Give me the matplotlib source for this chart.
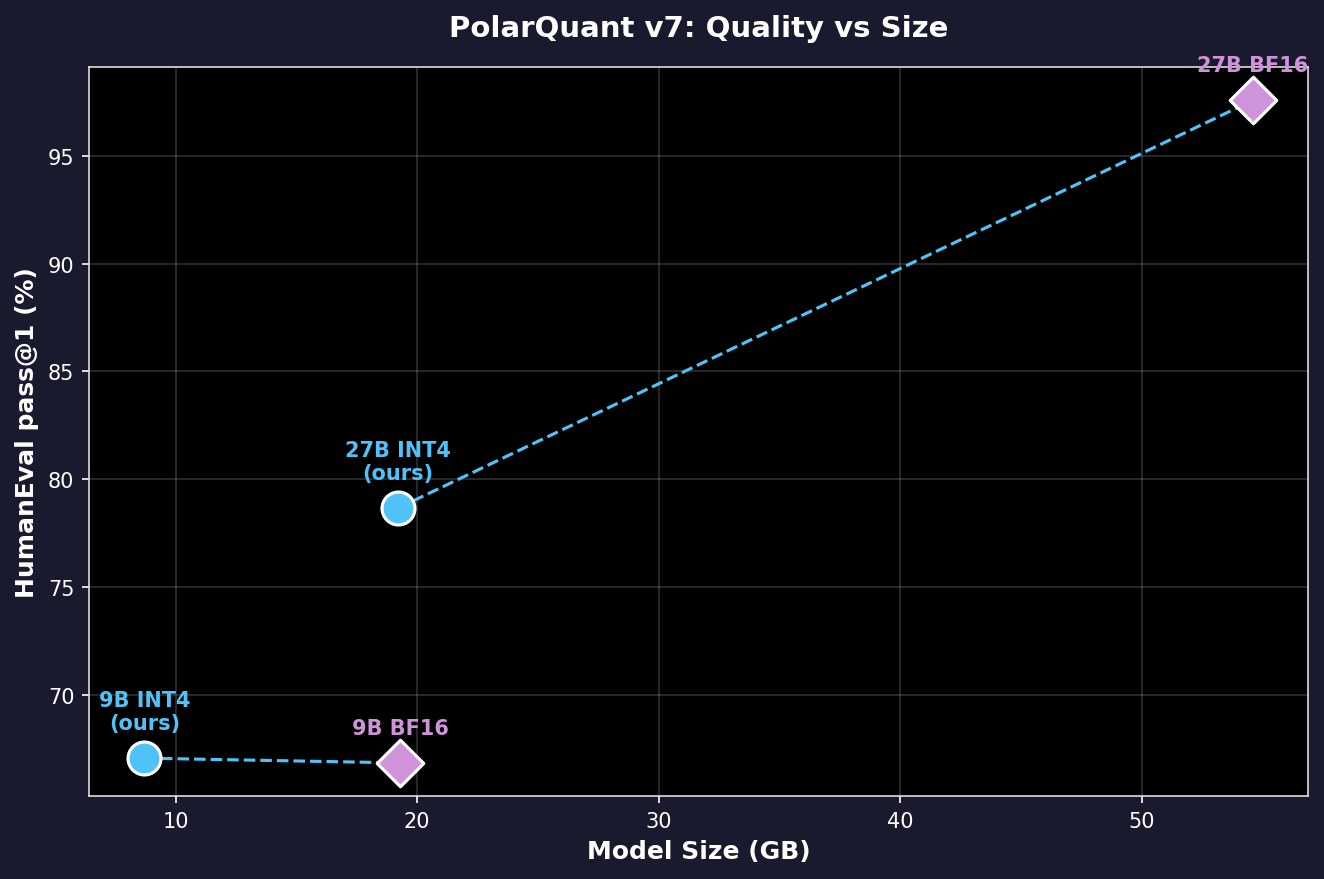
"""PolarQuant v7: quality vs model size."""
import matplotlib.pyplot as plt

BG = "#1a1a2e"
BLUE = "#4fc3f7"
PURPLE = "#ce93d8"

# quantised (ours) vs BF16 baselines
labels_ours = ["9B INT4\n(ours)", "27B INT4\n(ours)"]
size_ours = [8.7, 19.2]
score_ours = [67.07, 78.66]

labels_base = ["9B BF16", "27B BF16"]
size_base = [19.3, 54.6]
score_base = [66.85, 97.56]

fig = plt.figure(figsize=(1324 / 150, 880 / 150), dpi=150, facecolor=BG)
ax = fig.add_axes([0.0672, 0.0943, 0.9207, 0.8280])
ax.set_facecolor("black")

# dashed link: each quantised model to its baseline
for i in range(len(size_ours)):
    ax.plot([size_ours[i], size_base[i]], [score_ours[i], score_base[i]],
            ls="--", lw=1.5, c=BLUE, zorder=2)

ax.scatter(size_ours, score_ours, s=250, c=BLUE, marker="o",
           edgecolors="white", linewidths=1.5, zorder=3)
ax.scatter(size_base, score_base, s=250, c=PURPLE, marker="D",
           edgecolors="white", linewidths=1.5, zorder=3)

for lab, x, y in zip(labels_ours, size_ours, score_ours):
    ax.annotate(lab, (x, y), xytext=(0, 12), textcoords="offset points",
                ha="center", va="bottom", color=BLUE, fontsize=10,
                fontweight="bold", zorder=4)
for lab, x, y in zip(labels_base, size_base, score_base):
    ax.annotate(lab, (x, y), xytext=(0, 12), textcoords="offset points",
                ha="center", va="bottom", color=PURPLE, fontsize=10,
                fontweight="bold", zorder=4, annotation_clip=False)

ax.set_xlabel("Model Size (GB)", color="white", fontsize=12, fontweight="bold")
ax.set_ylabel("HumanEval pass@1 (%)", color="white", fontsize=12,
              fontweight="bold")
ax.set_title("PolarQuant v7: Quality vs Size", color="white", fontsize=14,
             fontweight="bold", pad=15)

ax.tick_params(colors="white", labelsize=10)
for sp in ax.spines.values():
    sp.set_color("#dddddd")
ax.grid(True, color="#888888", alpha=0.35, lw=0.8)
ax.set_axisbelow(True)

fig.savefig("out.png", dpi=150, facecolor=BG)
